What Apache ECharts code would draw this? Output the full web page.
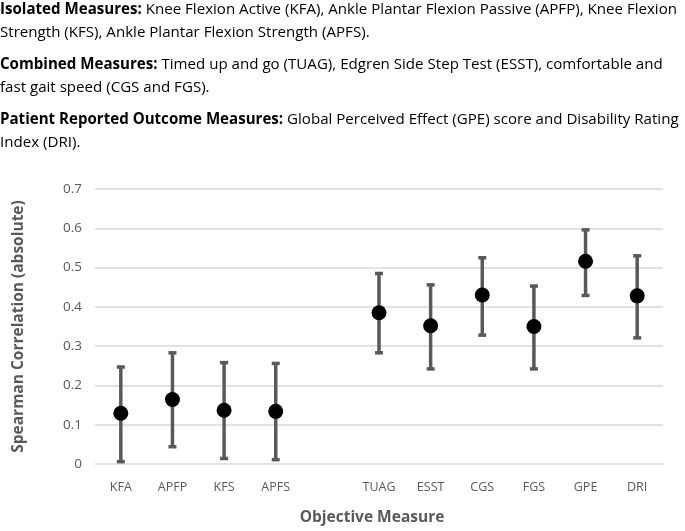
<!DOCTYPE html>
<html><head><meta charset="utf-8">
<script src="https://cdn.jsdelivr.net/npm/echarts@6/dist/echarts.min.js"></script>
<style>html,body{margin:0;padding:0;background:#fff}#c{width:685px;height:531px}</style>
</head><body><div id="c"></div>
<script>
const categories = ['KFA','APFP','KFS','APFS','','TUAG','ESST','CGS','FGS','GPE','DRI'];
const estimate = [0.129,0.164,0.137,0.134,null,0.385,0.352,0.430,0.350,0.516,0.428];
const lower    = [0.006,0.044,0.014,0.011,null,0.283,0.242,0.328,0.242,0.429,0.321];
const upper    = [0.247,0.283,0.258,0.256,null,0.485,0.456,0.525,0.453,0.596,0.530];
const yTicks = [0,0.1,0.2,0.3,0.4,0.5,0.6,0.7];

const FONT = "'Open Sans', sans-serif";
const GREY = '#595959';
const TFS = 15.1;

const errData = categories.map((c,i)=> lower[i]==null ? null : [i, lower[i], upper[i]]).filter(d=>d);

function para(text, top){
  return {type:'text', left:0, top:top, style:{text:text, font:TFS+"px "+FONT, lineHeight:22.3, fill:'#000',
    rich:{b:{fontWeight:'bold', fontSize:TFS, fontFamily:FONT, fill:'#000', lineHeight:22.3}}}};
}

const chart = echarts.init(document.getElementById('c'));
chart.setOption({
  animation:false,
  textStyle:{fontFamily:FONT},
  graphic:[
    para('{b|Isolated Measures:} Knee Flexion Active (KFA), Ankle Plantar Flexion Passive (APFP), Knee Flexion\nStrength (KFS), Ankle Plantar Flexion Strength (APFS).', -1),
    para('{b|Combined Measures:} Timed up and go (TUAG), Edgren Side Step Test (ESST), comfortable and\nfast gait speed (CGS and FGS).', 54),
    para('{b|Patient Reported Outcome Measures:} Global Perceived Effect (GPE) score and Disability Rating\nIndex (DRI).', 109)
  ],
  grid:{left:95, right:22, top:189, bottom:67},
  xAxis:{type:'category', data:categories,
    axisLine:{show:false}, axisTick:{show:false},
    axisLabel:{color:GREY, fontSize:12.5, margin:17, fontFamily:FONT},
    name:'Objective Measure', nameLocation:'middle', nameGap:46,
    nameTextStyle:{color:GREY, fontSize:15.5, fontWeight:'bold', fontFamily:FONT, padding:[0,14,0,0]}
  },
  yAxis:{type:'value', min:0, max:0.7, interval:0.1,
    axisLine:{show:false}, axisTick:{show:false},
    splitLine:{lineStyle:{color:'#d9d9d9', width:1.5}},
    axisLabel:{color:GREY, fontSize:13.5, margin:13, fontFamily:FONT, formatter:v=>String(Math.round(v*10)/10)},
    name:'Spearman Correlation (absolute)', nameLocation:'middle', nameGap:68,
    nameTextStyle:{color:GREY, fontSize:15.5, fontWeight:'bold', fontFamily:FONT}
  },
  series:[
    {type:'custom', data:errData, z:2,
      renderItem:(params, api)=>{
        const x = api.value(0);
        const lo = api.coord([x, api.value(1)]);
        const hi = api.coord([x, api.value(2)]);
        const s = {stroke:GREY, lineWidth:3.5};
        const cw = 4;
        return {type:'group', children:[
          {type:'line', shape:{x1:lo[0], y1:lo[1], x2:hi[0], y2:hi[1]}, style:s},
          {type:'line', shape:{x1:lo[0]-cw, y1:lo[1], x2:lo[0]+cw, y2:lo[1]}, style:s},
          {type:'line', shape:{x1:hi[0]-cw, y1:hi[1], x2:hi[0]+cw, y2:hi[1]}, style:s}
        ]};
      }
    },
    {type:'scatter', data:estimate, symbol:'circle', symbolSize:15, z:3,
      itemStyle:{color:'#000', opacity:1}}
  ]
});
</script></body></html>
